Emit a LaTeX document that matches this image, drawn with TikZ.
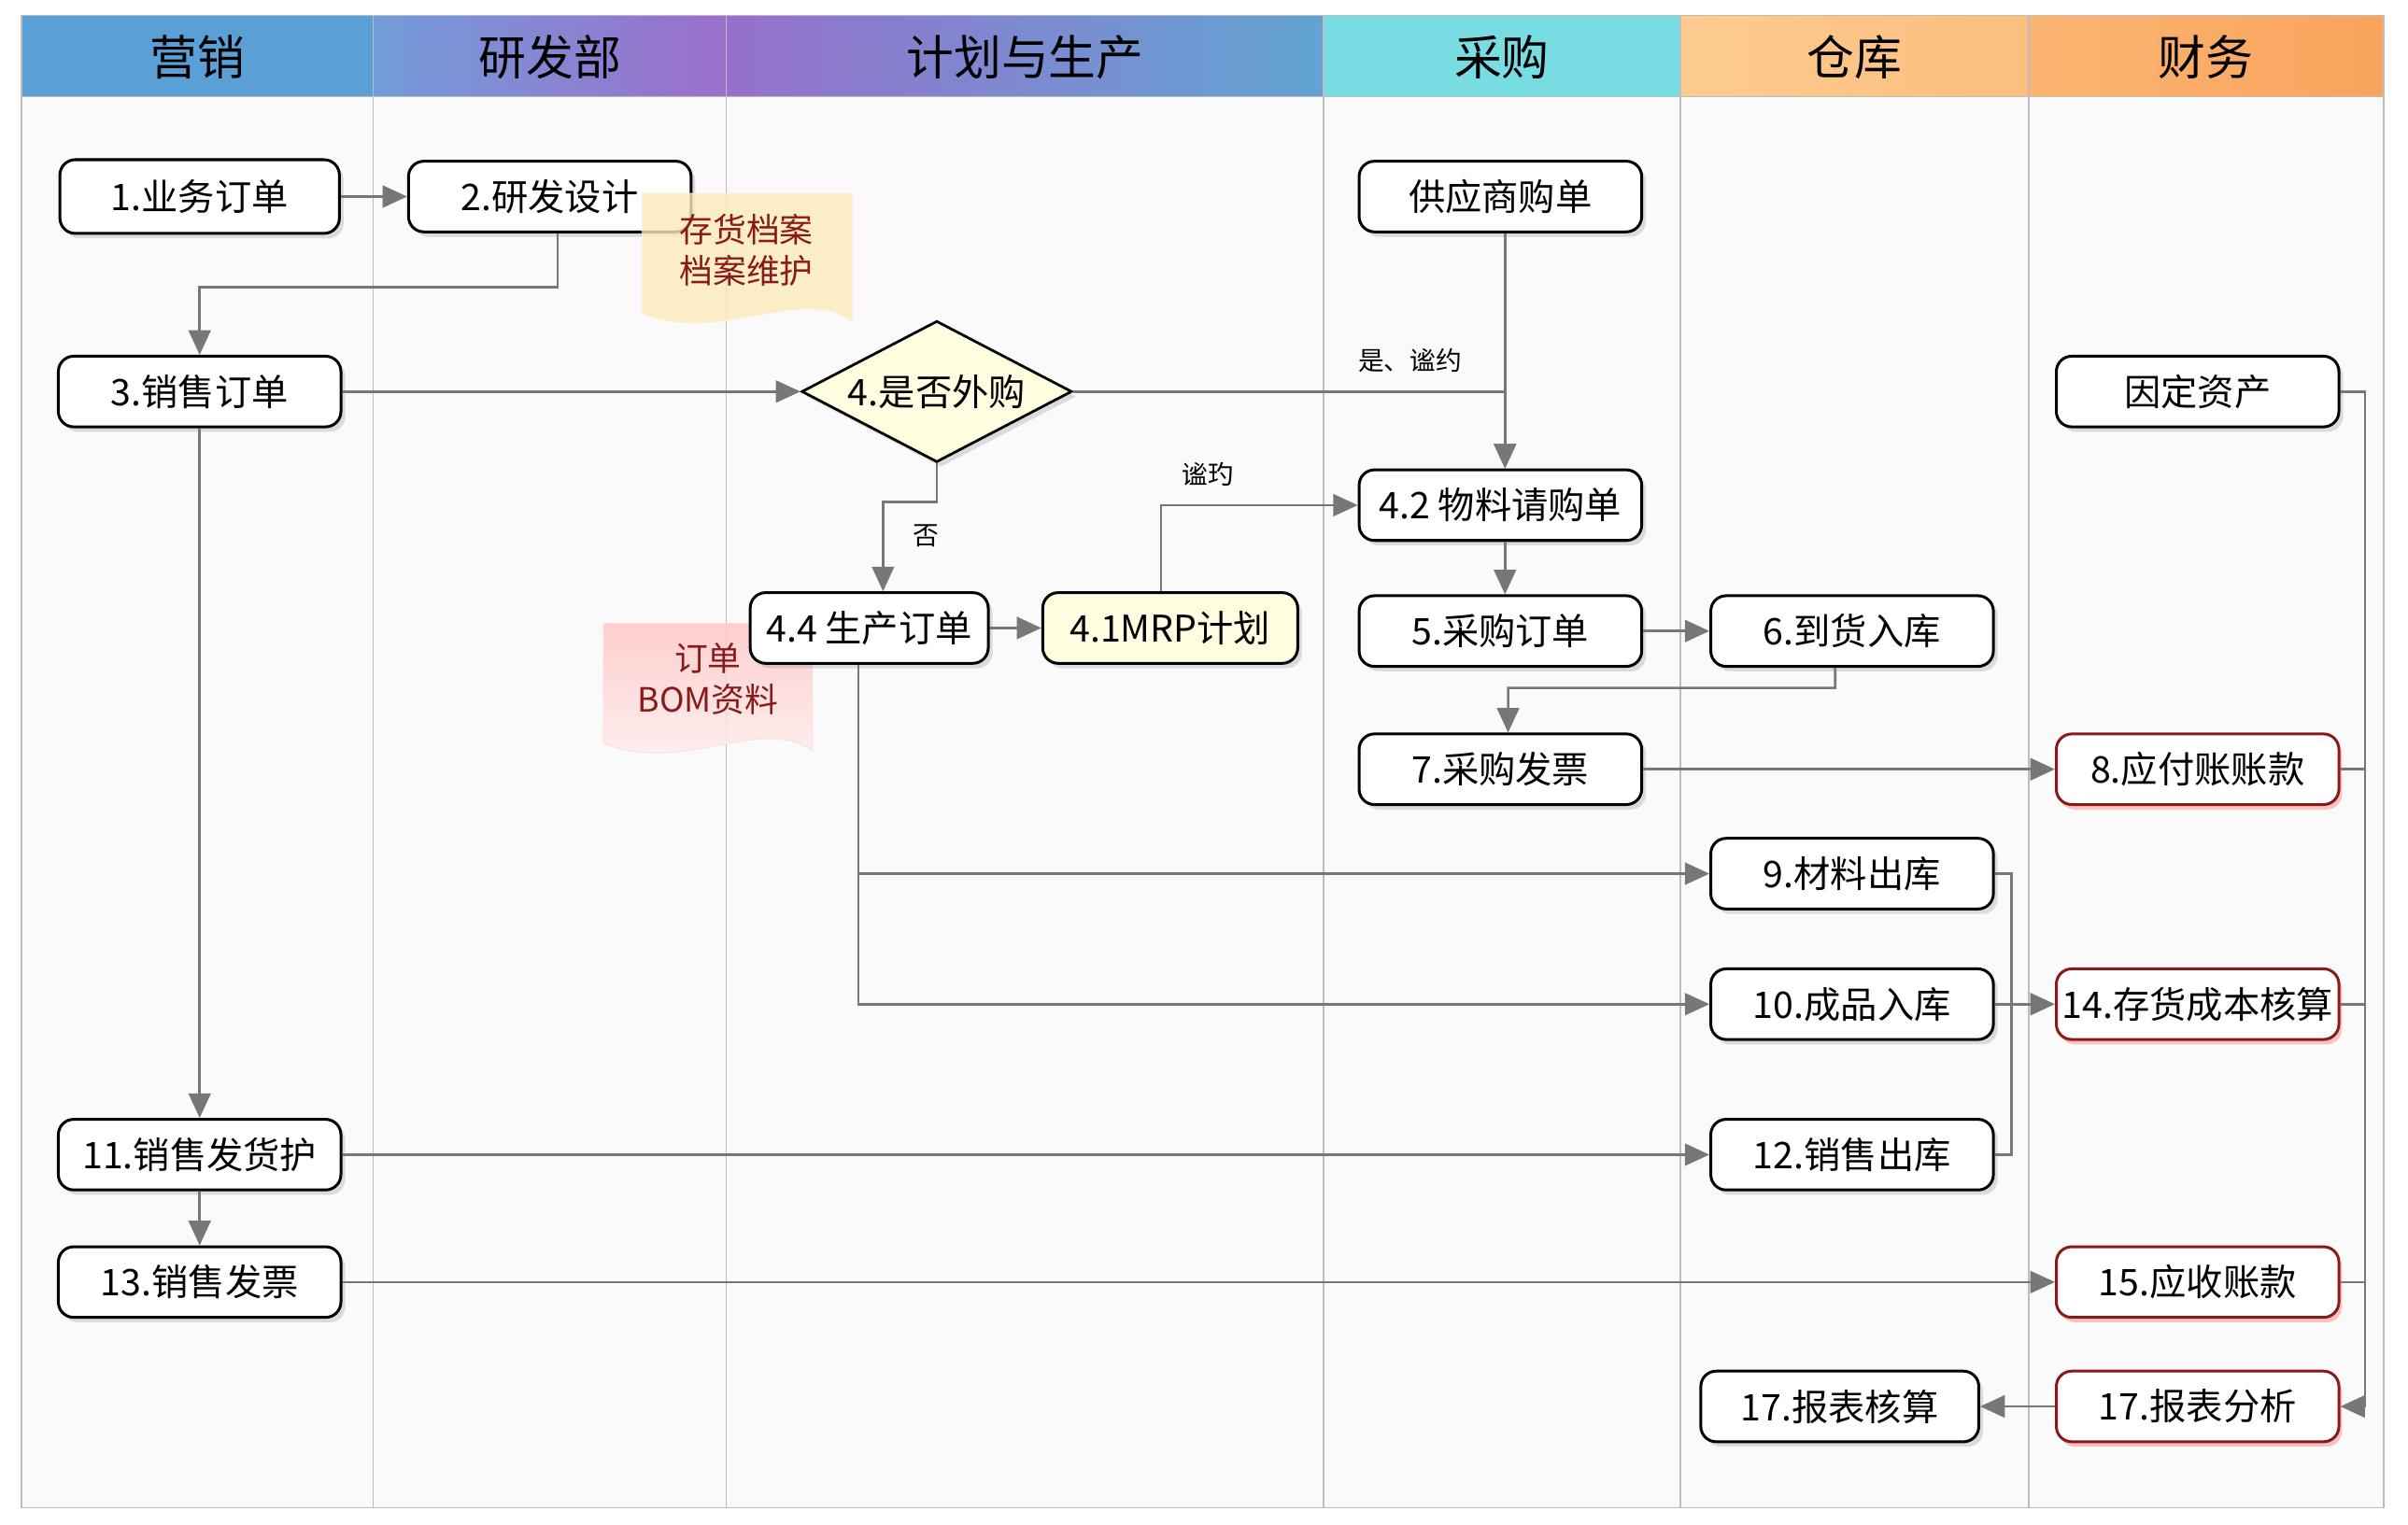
\documentclass[tikz,border=0pt]{standalone}
\usepackage{fontspec}
\setmainfont{Noto Sans CJK SC}
\usepackage{tikz}
\usetikzlibrary{arrows.meta,shapes.geometric,shadows}
\definecolor{lanegray}{HTML}{BDBDBD}
\definecolor{linegray}{HTML}{777777}
\definecolor{darkred}{HTML}{8A1A1A}
\definecolor{notey}{HTML}{FCEBB8}
\definecolor{h1}{HTML}{5A9FD6}
\definecolor{h2a}{HTML}{739CD9}
\definecolor{h2b}{HTML}{A58BD6}
\definecolor{h2c}{HTML}{9C6ECC}
\definecolor{h3a}{HTML}{9670CC}
\definecolor{h3b}{HTML}{AC84D6}
\definecolor{h3c}{HTML}{62A4D3}
\definecolor{h4}{HTML}{78DCE3}
\definecolor{h5a}{HTML}{FDCB8F}
\definecolor{h5b}{HTML}{FBBE7D}
\definecolor{h6a}{HTML}{FBB573}
\definecolor{h6b}{HTML}{F9A35C}
\tikzstyle{lane}=[draw=lanegray, line width=0.7pt]
\tikzstyle{head}=[font=\fontsize{22pt}{24pt}\selectfont, text=black]
\tikzstyle{boxbase}=[rectangle, draw=black, line width=1.3pt, fill=white,
                rounded corners=2.5mm, minimum width=46mm, minimum height=11.5mm,
                inner sep=0pt, font=\fontsize{17pt}{19pt}\selectfont]
\tikzstyle{box}=[boxbase, drop shadow={shadow xshift=0.7mm, shadow yshift=-0.8mm,
                opacity=0.25}]
\tikzstyle{fbox}=[boxbase, draw=darkred, drop shadow={shadow xshift=0.5mm,
                shadow yshift=-0.8mm, opacity=0.35, fill=red!65}]
\tikzstyle{decision}=[diamond, aspect=1.9, draw=black, line width=1.2pt, fill=yellow!12,
                minimum width=44mm, minimum height=23mm, inner sep=0pt,
                font=\fontsize{17pt}{19pt}\selectfont,
                drop shadow={shadow xshift=0.7mm, shadow yshift=-0.8mm, opacity=0.25}]
\tikzstyle{conn}=[draw=linegray, line width=1.1pt, -{Triangle[length=4mm,width=3.6mm]}]
\tikzstyle{lnk}=[draw=linegray, line width=1.1pt]
\tikzstyle{elabel}=[font=\fontsize{12pt}{14pt}\selectfont, inner sep=1pt]
\tikzstyle{doctext}=[text=darkred, align=center, font=\fontsize{15.5pt}{19pt}\selectfont]

\begin{document}
\begin{tikzpicture}[x=0.25mm, y=-0.25mm]
\useasboundingbox (0,0) rectangle (1568,993);
% lanes
\foreach \xa/\xb/\lc/\mc/\rc/\hd in {14/243/h1/h1/h1/营销, 243/473/h2a/h2b/h2c/研发部,
    473/862/h3a/h3b/h3c/计划与生产, 862/1094/h4/h4/h4/采购,
    1094/1321/h5a/h5a/h5b/仓库, 1321/1552/h6a/h6a/h6b/财务}
{
  \fill[black!2] (\xa,63) rectangle (\xb,982);
  \shade[left color=\lc, middle color=\mc, right color=\rc] (\xa,10) rectangle (\xb,63);
  \draw[lane] (\xa,10) rectangle (\xb,982);
  \draw[lane] (\xa,63) -- (\xb,63);
  \node[head] at ({(\xa+\xb)/2},37) {\hd};
}
% pink note goes under 4.4
\shadedraw[top color=red!22, bottom color=red!5, draw=red!15, opacity=0.85]
  (393,406) -- (529,406) -- (529,489) .. controls (495,465) and (445,505) .. (393,484) -- cycle;
\node[doctext] (bom) at (461,442) {订单\\BOM资料};

\node[box, minimum width=45.5mm, minimum height=12mm] (n1) at (130,128) {1.业务订单};
\node[box] (n2) at (358,128) {2.研发设计};
\node[box] (n3) at (130,255) {3.销售订单};
\node[decision] (d4) at (610,255) {4.是否外购};
\node[box] (sup) at (977,128) {供应商购单};
\node[box] (n42) at (977,329) {4.2 物料请购单};
\node[box, minimum width=38.75mm] (n44) at (566,409) {4.4 生产订单};
\node[box, minimum width=41.5mm, fill=yellow!12] (n41) at (762,409) {4.1MRP计划};
\node[box] (n5) at (977,411) {5.采购订单};
\node[box] (n6) at (1206,411) {6.到货入库};
\node[box] (n7) at (977,501) {7.采购发票};
\node[fbox] (n8) at (1431,501) {8.应付账账款};
\node[box] (n9) at (1206,569) {9.材料出库};
\node[box] (n10) at (1206,654) {10.成品入库};
\node[fbox] (n14) at (1431,654) {14.存货成本核算};
\node[box] (n11) at (130,752) {11.销售发货护};
\node[box] (n12) at (1206,752) {12.销售出库};
\node[box] (n13) at (130,835) {13.销售发票};
\node[fbox] (n15) at (1431,835) {15.应收账款};
\node[box, minimum width=45.25mm] (n17a) at (1198,916) {17.报表核算};
\node[fbox] (n17) at (1431,916) {17.报表分析};
\node[box] (fa) at (1431,255) {因定资产};

% yellow note over 2
\filldraw[fill=notey, draw=orange!15, opacity=0.8]
  (418,126) -- (555,126) -- (555,209) .. controls (520,185) and (470,225) .. (418,204) -- cycle;
\node[doctext] (inv) at (486,163) {存货档案\\档案维护};

\coordinate (j2) at (358,187);
\coordinate (j6) at (1195,448);
\coordinate (j4) at (610,327);
\coordinate (rb) at (1540,0);

\draw[conn] (n1) -- (n2);
\draw[conn] ([xshift=1.25mm]n2.south) |- (j2) -| (n3.north);
\draw[conn] (n3) -- (d4);
\draw[conn] (d4.east) -| ([xshift=0.75mm]n42.north)
  node[elabel, pos=0.39, above=2.5mm] (yes) {是、谧约};
\draw[conn] ([xshift=0.75mm]sup.south) -- ([xshift=0.75mm]n42.north);
\draw[conn] (d4.south) -- (j4) -| ([xshift=2.25mm]n44.north);
\node[elabel] (no) at (603,349) {否};
\draw[conn] (n44) -- (n41);
\draw[conn] ([xshift=-1.5mm]n41.north) |- (n42.west)
  node[elabel, pos=0.62, above=2.5mm] (wy) {谧玓};
\draw[conn] ([xshift=0.75mm]n42.south) -- ([xshift=0.75mm]n5.north);
\draw[conn] (n5) -- (n6);
\draw[conn] ([xshift=-2.75mm]n6.south) -- (j6) -| ([xshift=1.25mm]n7.north);
\draw[conn] (n7) -- (n8);
\draw[conn] ([xshift=-1.75mm]n44.south) |- (n9.west);
\draw[conn] ([xshift=-1.75mm]n44.south) |- (n10.west);
\draw[conn] (n3) -- (n11);
\draw[conn] (n11) -- (n13);
\draw[conn] (n11) -- (n12);
\draw[conn] (n13) -- (n15);
\draw[lnk] (n9.east) -- ++(11,0) |- (n12.east);
\draw[conn] (n10) -- (n14);
\draw[conn] (fa.east) -| (rb |- j6) |- (n17.east);
\draw[lnk] (fa.east) -| (rb |- n17.east);
\draw[lnk] (n8.east) -- (n8.east -| rb);
\draw[lnk] (n14.east) -- (n14.east -| rb);
\draw[lnk] (n15.east) -- (n15.east -| rb);
\draw[conn] (n17) -- (n17a);
\end{tikzpicture}
\end{document}
